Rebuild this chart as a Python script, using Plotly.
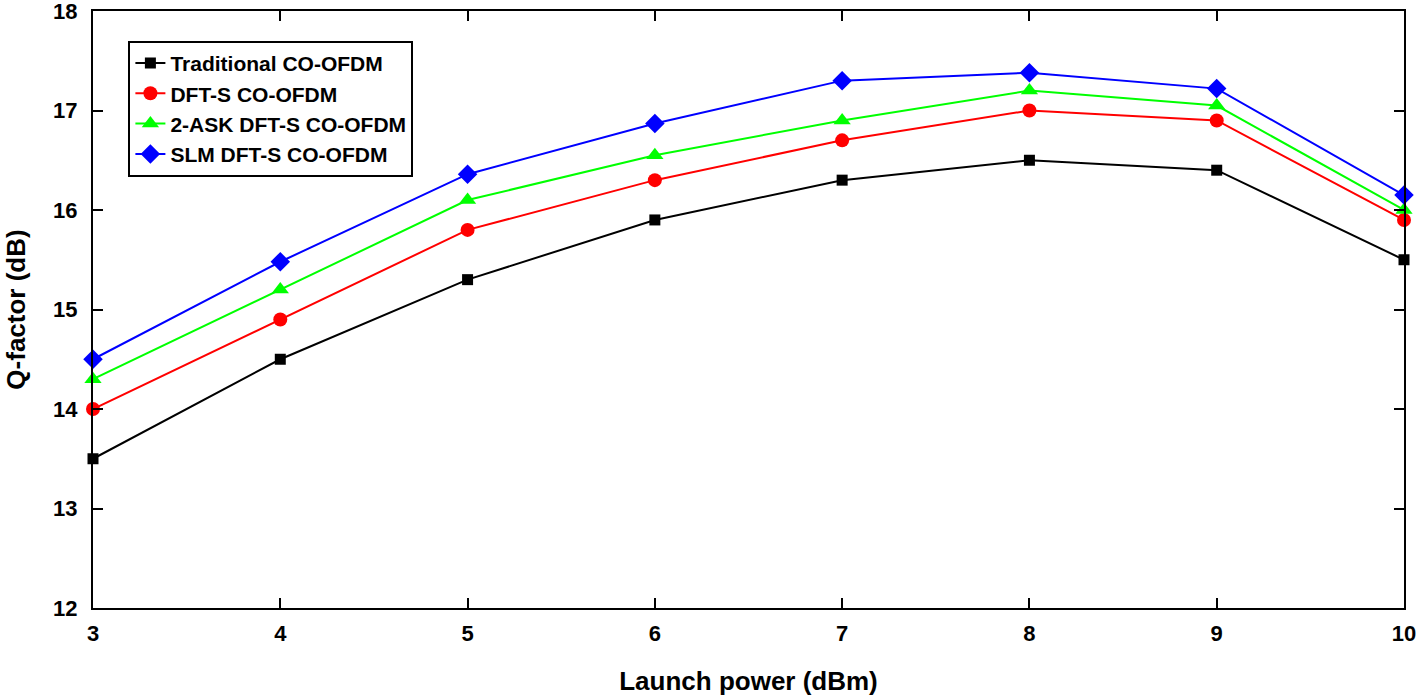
import plotly.graph_objects as go

# Data
launch_power = [3, 4, 5, 6, 7, 8, 9, 10]
traditional = [13.5, 14.5, 15.3, 15.9, 16.3, 16.5, 16.4, 15.5]
dft_s = [14.0, 14.9, 15.8, 16.3, 16.7, 17.0, 16.9, 15.9]
ask_dft_s = [14.3, 15.2, 16.1, 16.55, 16.9, 17.2, 17.05, 16.0]
slm_dft_s = [14.5, 15.48, 16.36, 16.87, 17.3, 17.38, 17.22, 16.15]

series = [
    ("Traditional CO-OFDM", traditional, "black", "square", 11),
    ("DFT-S CO-OFDM", dft_s, "#ff0000", "circle", 14),
    ("2-ASK DFT-S CO-OFDM", ask_dft_s, "#00ff00", "triangle-up", 15),
    ("SLM DFT-S CO-OFDM", slm_dft_s, "#0000ff", "diamond", 15),
]

font_family = "Liberation Sans, Arial, sans-serif"

fig = go.Figure()
for name, vals, color, sym, size in series:
    fig.add_trace(go.Scatter(
        x=launch_power, y=vals, name=name, mode="lines+markers",
        line=dict(color=color, width=2),
        marker=dict(symbol=sym, size=size, color=color, line=dict(width=0)),
        cliponaxis=False,
    ))

axis_common = dict(
    showline=True, linecolor="black", linewidth=2, mirror="ticks",
    ticks="inside", ticklen=10, tickwidth=1.5, tickcolor="black",
    showgrid=False, zeroline=False, automargin=False,
    ticklabeloverflow="allow",
    tickfont=dict(family=font_family, size=22, color="black", weight="bold"),
)

fig.update_xaxes(
    range=[3, 10], dtick=1, ticklabelstandoff=5, **axis_common,
    title=dict(text="<b>Launch power (dBm)</b>", standoff=28,
               font=dict(family=font_family, size=26, color="black")),
)
fig.update_yaxes(
    range=[12, 18], dtick=1, ticklabelstandoff=9, **axis_common,
    title=dict(text="<b>Q-factor (dB)</b>", standoff=20,
               font=dict(family=font_family, size=26, color="black")),
)

fig.update_layout(
    width=1417, height=696,
    margin=dict(l=93, r=13, t=11, b=88),
    plot_bgcolor="white", paper_bgcolor="white",
    legend=dict(
        x=0.027, y=0.95, xanchor="left", yanchor="top",
        bordercolor="black", borderwidth=2, bgcolor="white",
        font=dict(family=font_family, size=21, color="black", weight="bold"),
        tracegroupgap=0, itemwidth=30,
    ),
)

fig.write_html("out.html", config={"displayModeBar": False},
               post_script="document.body.style.margin='0';")
